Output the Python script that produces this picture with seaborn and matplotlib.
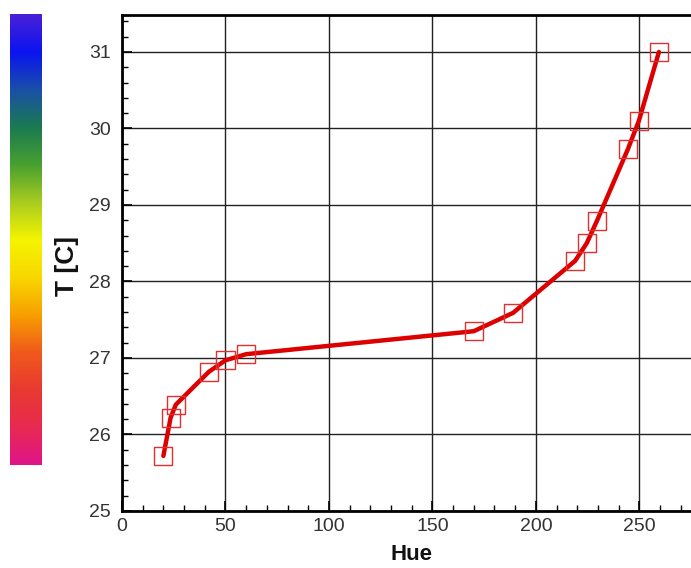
import numpy as np
import pandas as pd
import matplotlib
matplotlib.use("Agg")
import matplotlib.pyplot as plt
from matplotlib.colors import LinearSegmentedColormap
from matplotlib.ticker import MultipleLocator
import seaborn as sns

# Data
hue = [20, 23.5, 26, 42, 50, 60, 170, 189, 219, 224.6, 229.5, 244.5, 249.8, 259.5]
temp = [25.72, 26.22, 26.39, 26.82, 26.97, 27.05, 27.35, 27.59, 28.27, 28.5, 28.79, 29.73, 30.1, 31.0]
x_ticks = [0, 50, 100, 150, 200, 250]
y_ticks = [25, 26, 27, 28, 29, 30, 31]
cbar_colors = ["#e0148a", "#e82a50", "#e83a30", "#f05a1c", "#f8a000", "#f8d800",
               "#f4f400", "#a8cc20", "#48a030", "#1a7a50", "#1a50a8", "#0a14f0", "#4a20d8"]

sns.set_theme(style="white")
plt.rcParams['font.family'] = ['Liberation Sans', 'DejaVu Sans']

fig = plt.figure(figsize=(6.91, 5.68), dpi=100)
ax = fig.add_axes([122/691, 1 - 511/568, 1 - 122/691, (511 - 15)/568])

df = pd.DataFrame({"Hue": hue, "T": temp})
sns.lineplot(data=df, x="Hue", y="T", ax=ax, color="#dd0000", linewidth=3.2, sort=False, zorder=3)
sns.scatterplot(data=df, x="Hue", y="T", ax=ax, marker="s", s=170, facecolor="none",
                edgecolor="#e03030", linewidth=1.0, zorder=4)

ax.set_xlim(0, 275)
ax.set_ylim(25, 25 + (511 - 15) / 76.5)
ax.set_xticks(x_ticks)
ax.set_yticks(y_ticks)
ax.xaxis.set_minor_locator(MultipleLocator(10))
ax.yaxis.set_minor_locator(MultipleLocator(0.2))
ax.grid(True, which="major", color="#222222", linewidth=1.0)
ax.set_axisbelow(True)
ax.tick_params(which="major", direction="in", length=7, width=1.2, color="black",
               labelsize=14, labelcolor="#333333", left=True, bottom=True)
ax.tick_params(axis="y", which="major", pad=8)
ax.tick_params(axis="x", which="major", pad=5)
ax.tick_params(which="minor", direction="in", length=4, width=1.0, color="black", left=True, bottom=True)

for side in ["left", "bottom", "top"]:
    ax.spines[side].set_visible(True)
    ax.spines[side].set_color("black")
    ax.spines[side].set_linewidth(2.0)
ax.spines["right"].set_visible(False)

ax.set_xlabel("")
ax.set_ylabel("")
fig.text(411/691, 3/568, "Hue", fontsize=16, fontweight="bold",
         ha="center", va="bottom", color="#111111")
fig.text(67/691, 1 - 266/568, "T [C]", rotation=90, fontsize=19, fontweight="bold",
         ha="center", va="center", color="#111111")
if ax.get_legend():
    ax.get_legend().remove()

# Colour bar
cax = fig.add_axes([10/691, 1 - 465/568, 32/691, (465 - 14)/568])
cmap = LinearSegmentedColormap.from_list("rb", cbar_colors)
grad = np.linspace(0, 1, 256).reshape(-1, 1)
cax.imshow(grad, aspect="auto", cmap=cmap, origin="lower")
cax.set_axis_off()

fig.savefig("out.png", dpi=100)
